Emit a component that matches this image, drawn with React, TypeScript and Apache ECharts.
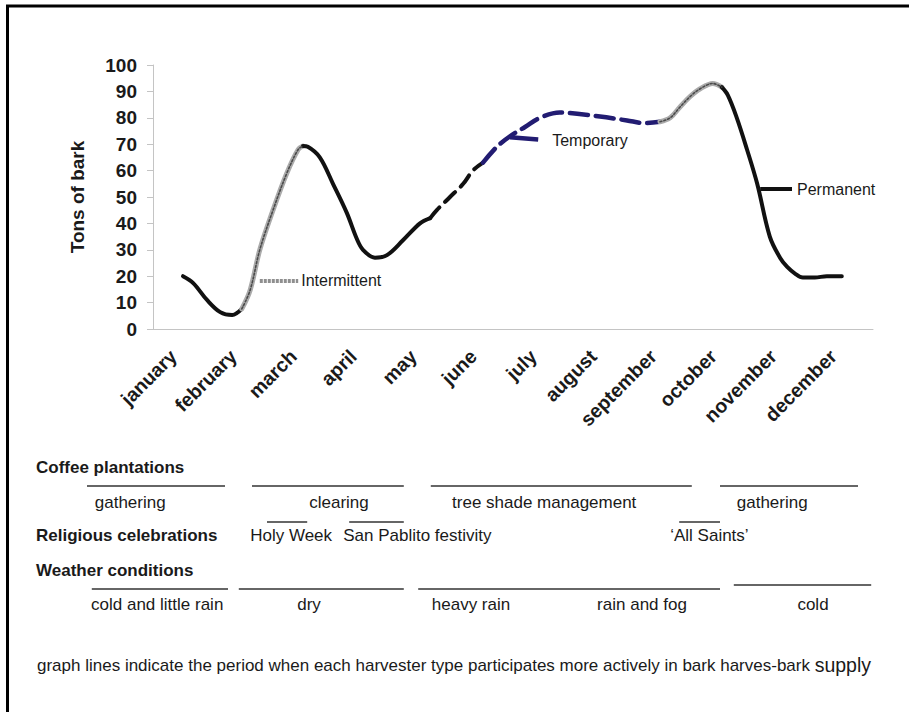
import React, { useEffect, useRef } from "react";
import * as echarts from "echarts";

const months = ["january", "february", "march", "april", "may", "june", "july", "august", "september", "october", "november", "december"];

// [month position, tons of bark]; month centre = index + 0.5
const permanentA = [[0.5, 20], [0.67, 17.4], [0.9, 11], [1.12, 6.4], [1.32, 5.3], [1.48, 7.6]];
const intermittentA = [[1.48, 7.6], [1.62, 14.8], [1.78, 30], [2.0, 45], [2.23, 59], [2.42, 68], [2.5, 69.3]];
const permanentB = [[2.5, 69.3], [2.58, 69], [2.78, 65], [3.0, 55], [3.23, 44], [3.4, 34], [3.5, 30], [3.7, 27], [3.9, 28], [4.17, 33.7], [4.45, 40], [4.62, 42]];
const permanentDashed = [[4.62, 42], [4.73, 45], [4.95, 50], [5.17, 55], [5.33, 60], [5.5, 63]];
const temporary = [[5.5, 63], [5.73, 69], [5.95, 73], [6.2, 76.5], [6.45, 80], [6.78, 82], [7.07, 81.5], [7.45, 80.5], [7.9, 79], [8.2, 78], [8.45, 78.5]];
const intermittentB = [[8.45, 78.5], [8.62, 80], [8.78, 84], [8.95, 88], [9.12, 91], [9.33, 93], [9.48, 91.6]];
const permanentC = [[9.48, 91.6], [9.58, 88.6], [9.73, 80], [9.9, 68], [10.07, 55], [10.28, 35], [10.45, 27], [10.57, 23.5], [10.7, 21], [10.83, 19.5], [11.03, 19.5], [11.23, 20], [11.48, 20]];

const intermittentCallout = [[1.78, 18.2], [2.42, 18.2]];
const temporaryCallout = [[5.95, 72.6], [6.42, 71.8]];
const permanentCallout = [[10.12, 53], [10.65, 53]];
const calloutLabels = ["Intermittent", "Temporary", "Permanent"];

const sectionTitles = ["Coffee plantations", "Religious celebrations", "Weather conditions"];
const coffeeLabels = ["gathering", "clearing", "tree shade management", "gathering"];
const coffeeSpans = [[-1.1, 1.2], [1.65, 4.18], [4.63, 8.98], [9.45, 11.75]];
const coffeeLabelAt = [-0.38, 3.1, 6.52, 10.32];
const religiousLabels = ["Holy Week", "San Pablito festivity", "\u2018All Saints\u2019"];
const religiousSpans = [[1.9, 2.57], [3.27, 4.18], [8.77, 9.45]];
const religiousLabelAt = [1.62, 3.17, 8.62];
const weatherLabels = ["cold and little rain", "dry", "heavy rain", "rain and fog", "cold"];
const weatherSpans = [[-1.02, 1.25], [1.43, 4.18], [4.42, 9.45], [9.68, 11.97]];
const weatherLabelAt = [0.07, 2.6, 5.3, 8.15, 11.0];
const footerMain = "graph lines indicate the period when each harvester type participates more actively in bark harves-bark ";
const footerEnd = "supply";

const FONT = "'Liberation Sans', Arial, sans-serif";
const INK = "#1a1a1a";
const BLUE = "#221c72";

function callout(pts: number[][], label: string, color: string, width: number, dist: number, type: any = "solid") {
  return {
    symbol: ["none", "none"],
    silent: true,
    animation: false,
    lineStyle: { color, width, type },
    label: { show: true, position: "end", formatter: label, distance: dist, fontSize: 16, color: INK, fontFamily: FONT },
    emphasis: { disabled: true },
    data: [[{ coord: pts[0] }, { coord: pts[1] }]],
  };
}

export default function App() {
  const ref = useRef<HTMLDivElement>(null);
  useEffect(() => {
    document.body.style.margin = "0";
    const chart = echarts.init(ref.current!, undefined, { renderer: "svg" });
    const line = (data: number[][], color: string, width: number, type: any = "solid", extra: any = {}) => ({
      type: "line",
      xAxisIndex: 1,
      data,
      smooth: 0.35,
      showSymbol: false,
      symbol: "none",
      silent: true,
      lineStyle: { color, width, type, cap: "round", join: "round" },
      z: 3,
      ...extra,
    });
    chart.setOption({
      animation: false,
      backgroundColor: "#fff",
      textStyle: { fontFamily: FONT },
      grid: { left: 153, right: 36, top: 65, bottom: 383 },
      xAxis: [
        {
          type: "category",
          data: months,
          boundaryGap: true,
          axisLine: { lineStyle: { color: "#c4c4c4", width: 1 } },
          axisTick: { length: 5, lineStyle: { color: "#c4c4c4" } },
          axisLabel: { rotate: 45, interval: 0, fontWeight: "bold", fontSize: 19.5, color: INK, margin: 14, padding: [0, 14, 0, 0], fontFamily: FONT },
        },
        { type: "value", min: 0, max: 12, show: false },
      ],
      yAxis: {
        type: "value",
        min: 0,
        max: 100,
        interval: 10,
        name: "Tons of bark",
        nameLocation: "middle",
        nameRotate: 90,
        nameGap: 66,
        nameTextStyle: { fontWeight: "bold", fontSize: 19, color: INK, fontFamily: FONT },
        axisLine: { show: true, lineStyle: { color: "#c4c4c4" } },
        axisTick: { show: true, length: 6, lineStyle: { color: "#c4c4c4" } },
        splitLine: { show: false },
        axisLabel: { fontWeight: "bold", fontSize: 19, color: INK, margin: 16, fontFamily: FONT },
      },
      series: [
        line(permanentA, "#111", 4),
        line(intermittentA, "#ababab", 5),
        line(intermittentA, "#4a4a4a", 1.6, [2, 2], { z: 4 }),
        line(permanentB, "#111", 4),
        line(permanentDashed, "#111", 4, [14, 8]),
        line(temporary, BLUE, 4.5, [18, 8]),
        line(intermittentB, "#ababab", 5),
        line(intermittentB, "#4a4a4a", 1.6, [2, 2], { z: 4 }),
        line(permanentC, "#111", 4),
        {
          type: "line", xAxisIndex: 1, data: [], silent: true,
          markLine: callout(intermittentCallout, calloutLabels[0], "#8f8f8f", 4, 3, [3, 1]),
        },
        {
          type: "line", xAxisIndex: 1, data: [], silent: true,
          markLine: callout(temporaryCallout, calloutLabels[1], BLUE, 4.5, 14),
        },
        {
          type: "line", xAxisIndex: 1, data: [], silent: true,
          markLine: callout(permanentCallout, calloutLabels[2], "#111", 4, 5),
        },
      ],
    });

    const px = (v: number) => chart.convertToPixel({ xAxisIndex: 1 }, v) as number;
    const g: any[] = [];
    g.push({ type: "rect", shape: { x: 7.5, y: 6, width: 1200, height: 1200 }, style: { fill: "none", stroke: "#000", lineWidth: 3 }, silent: true });
    const hline = (a: number, b: number, y: number) => ({
      type: "line", silent: true,
      shape: { x1: px(a), y1: y, x2: px(b), y2: y },
      style: { stroke: "#333", lineWidth: 1.5 },
    });
    const txt = (x: number, y: number, text: string, align: string, bold = false, size = 17) => ({
      type: "text", silent: true, x, y,
      style: { text, fontFamily: FONT, fontSize: size, fontWeight: bold ? "bold" : "normal", fill: INK, align, verticalAlign: "middle" },
    });
    const headingX = 36;
    g.push(txt(headingX, 467, sectionTitles[0], "left", true, 17));
    g.push(txt(headingX, 535, sectionTitles[1], "left", true, 17));
    g.push(txt(headingX, 570, sectionTitles[2], "left", true, 17));
    coffeeSpans.forEach((s) => g.push(hline(s[0], s[1], 486)));
    coffeeLabels.forEach((l, i) => g.push(txt(px(coffeeLabelAt[i]), 502, l, "center")));
    religiousSpans.forEach((s) => g.push(hline(s[0], s[1], 522)));
    religiousLabels.forEach((l, i) => g.push(txt(px(religiousLabelAt[i]), 535, l, "left")));
    weatherSpans.forEach((s, i) => g.push(hline(s[0], s[1], i === 3 ? 585 : 589)));
    weatherLabels.forEach((l, i) => g.push(txt(px(weatherLabelAt[i]), 604, l, "center")));
    g.push({
      type: "text", silent: true, x: 37, y: 665,
      style: {
        text: "{a|" + footerMain + "}{b|" + footerEnd + "}",
        verticalAlign: "middle",
        rich: {
          a: { fontFamily: FONT, fontSize: 17, fill: INK, color: INK },
          b: { fontFamily: FONT, fontSize: 19.5, fill: INK, color: INK },
        },
      },
    });
    chart.setOption({ graphic: g });
    return () => chart.dispose();
  }, []);
  return <div ref={ref} style={{ position: "fixed", left: 0, top: 0, width: 909, height: 712 }} />;
}
